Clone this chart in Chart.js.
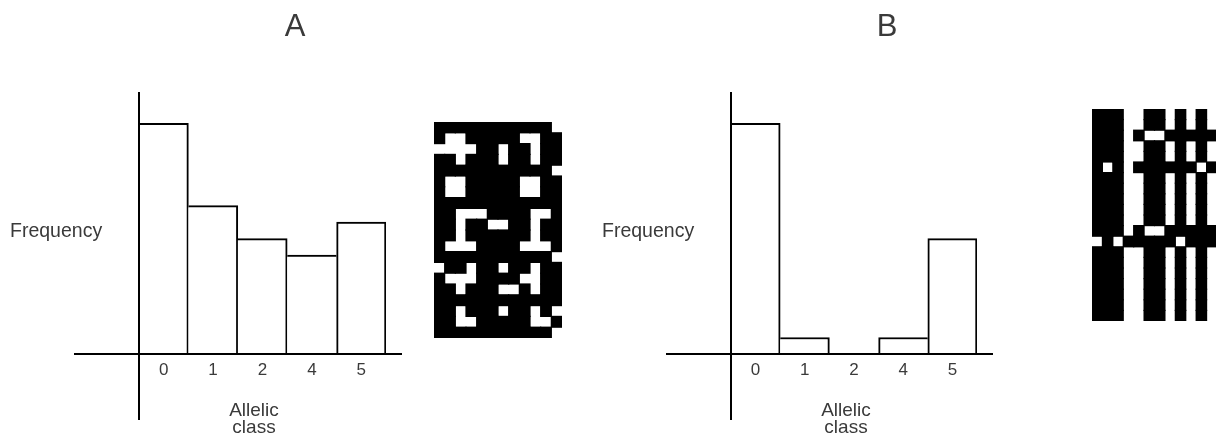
<!DOCTYPE html>
<html>
<head>
<meta charset="UTF-8">
<title>Allelic class histograms</title>
<script src="https://cdn.jsdelivr.net/npm/chart.js"></script>
<style>
    body { margin: 0; background: #fff; }
    .janela { position: relative; width: 1216px; height: 441px; overflow: hidden; background: #fff; }
    canvas { position: absolute; }
</style>
</head>
<body>

<div class="janela">
    <canvas id="histA" width="420" height="441" style="left:0; top:0;"></canvas>
    <canvas id="gradeA" width="128" height="216" style="left:434px; top:122px;"></canvas>
    <canvas id="histB" width="420" height="441" style="left:590px; top:0;"></canvas>
    <canvas id="gradeB" width="125" height="212" style="left:1092px; top:109px;"></canvas>
</div>

<script>
    // dados
    const categorias = ['0', '1', '2', '4', '5'];
    const frequenciaA = [28, 18, 14, 12, 16];
    const frequenciaB = [28, 2, 0, 2, 14];
    const eixoYTopo = 31.8;   // onde a linha vertical termina em cima
    const eixoYBase = -8;     // e embaixo (abaixo do eixo x)

    // imagens binarias, '#' = preto
    const gradeA = [
        '###########.',
        '#..#####..##',
        '....##.##.##',
        '##.###.##.##',
        '###########.',
        '#..#####..##',
        '#..#####..##',
        '############',
        '##...####..#',
        '##.##..##.##',
        '##.######.##',
        '#...####...#',
        '###########.',
        '.##.##.##.##',
        '#...####..##',
        '##.###..#.##',
        '############',
        '##.###.##.#.',
        '##..#####..#',
        '###########.'
    ];
    const gradeB = [
        '###..##.#.#.',
        '###..##.#.#.',
        '###.#..#####',
        '###..##.#.#.',
        '###..##.#.#.',
        '#.#.######.#',
        '###..##.#.#.',
        '###..##.#.#.',
        '###..##.#.#.',
        '###..##.#.#.',
        '###..##.#.#.',
        '###.#..#####',
        '.#.#####.###',
        '###..##.#.#.',
        '###..##.#.#.',
        '###..##.#.#.',
        '###..##.#.#.',
        '###..##.#.#.',
        '###..##.#.#.',
        '###..##.#.#.'
    ];

    const corTexto = '#3a3a3a';
    const fonte = '"Liberation Sans", Arial, sans-serif';

    // desenha os eixos cruzados e os textos do painel
    const eixosCruzados = {
        id: 'eixosCruzados',
        afterDatasetsDraw(chart, args, opts) {
            const ctx = chart.ctx;
            const area = chart.chartArea;
            const y = chart.scales.y;
            const y0 = y.getPixelForValue(0);

            ctx.save();
            ctx.strokeStyle = '#000';
            ctx.lineWidth = 2;
            ctx.beginPath();
            ctx.moveTo(area.left - 65, y0);
            ctx.lineTo(area.right + 16, y0);
            ctx.moveTo(area.left, y.getPixelForValue(eixoYTopo));
            ctx.lineTo(area.left, y.getPixelForValue(eixoYBase));
            ctx.stroke();

            ctx.fillStyle = corTexto;
            ctx.textBaseline = 'alphabetic';

            ctx.font = '31px ' + fonte;
            ctx.textAlign = 'center';
            ctx.fillText(opts.titulo, area.left + 156, 36);

            ctx.font = '19.5px ' + fonte;
            ctx.textAlign = 'left';
            ctx.fillText('Frequency', area.left - 129, 237);

            ctx.font = '19px ' + fonte;
            ctx.textAlign = 'center';
            ctx.fillText('Allelic', area.left + 115, 416);
            ctx.fillText('class', area.left + 115, 433);
            ctx.restore();
        }
    };

    // bordas internas do Chart.js: na divisa, a barra mais alta desenha a linha
    function lado(meu, vizinho) {
        if (vizinho === undefined || vizinho < meu) return 2;
        if (vizinho > meu) return 0;
        return 1;
    }
    function bordas(ctx) {
        const v = ctx.dataset.data;
        const i = ctx.dataIndex;
        // a primeira barra encosta no eixo vertical, que ja faz a linha
        const esq = i === 0 ? 0 : lado(v[i], v[i - 1]);
        return { top: 2, left: esq, right: lado(v[i], v[i + 1]), bottom: 0 };
    }

    function plotarHistograma(id, titulo, valores, padEsq, padDir) {
        new Chart(document.getElementById(id), {
            type: 'bar',
            data: {
                labels: categorias,
                datasets: [{
                    data: valores,
                    backgroundColor: '#fff',
                    borderColor: '#000',
                    borderWidth: bordas,
                    borderSkipped: 'start',
                    barPercentage: 1,
                    categoryPercentage: 1
                }]
            },
            options: {
                responsive: false,
                animation: false,
                events: [],
                layout: { padding: { left: padEsq, right: padDir, top: 92, bottom: 0 } },
                scales: {
                    x: {
                        grid: { display: false, drawTicks: false },
                        border: { display: false },
                        ticks: {
                            color: corTexto,
                            font: { family: fonte, size: 17 },
                            padding: 6,
                            maxRotation: 0,
                            autoSkip: false
                        },
                        afterFit(escala) { escala.height = 87; }
                    },
                    y: { display: false, min: 0, max: eixoYTopo }
                },
                plugins: {
                    legend: { display: false },
                    tooltip: { enabled: false },
                    eixosCruzados: { titulo: titulo }
                }
            },
            plugins: [eixosCruzados]
        });
    }

    // cada coluna da imagem vira um dataset de barras flutuantes
    function plotarGrade(id, grade) {
        const linhas = grade.map((l, i) => String(i));
        const colunas = grade[0].length;
        const datasets = [];
        for (let c = 0; c < colunas; c++) {
            datasets.push({
                data: grade.map(l => l[c] === '#' ? [c, c + 1] : null),
                backgroundColor: '#000',
                borderWidth: 0,
                inflateAmount: 0.6,
                barPercentage: 1,
                categoryPercentage: 1,
                grouped: false
            });
        }
        new Chart(document.getElementById(id), {
            type: 'bar',
            data: { labels: linhas, datasets: datasets },
            options: {
                indexAxis: 'y',
                responsive: false,
                animation: false,
                events: [],
                layout: { padding: 0 },
                scales: {
                    x: { type: 'linear', display: false, min: 0, max: colunas },
                    y: { display: false }
                },
                plugins: { legend: { display: false }, tooltip: { enabled: false } }
            }
        });
    }

    plotarHistograma('histA', 'A', frequenciaA, 139, 34);
    plotarGrade('gradeA', gradeA);
    plotarHistograma('histB', 'B', frequenciaB, 141, 33);
    plotarGrade('gradeB', gradeB);
</script>
</body>
</html>
